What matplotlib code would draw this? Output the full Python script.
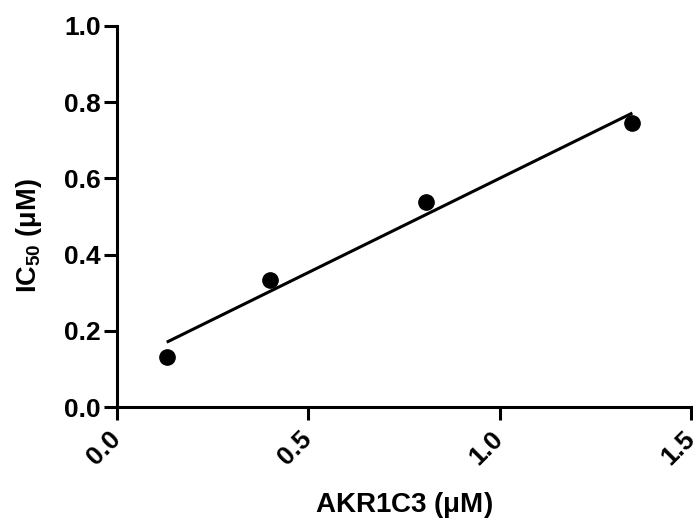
import numpy as np
import matplotlib
matplotlib.use('Agg')
import matplotlib.pyplot as plt

plt.rcParams['font.family'] = ['Liberation Sans', 'DejaVu Sans']
plt.rcParams['font.weight'] = 'bold'

# data
akr1c3 = [0.13, 0.40, 0.807, 1.347]
ic50 = [0.132, 0.333, 0.539, 0.746]
x_ticks = [0.0, 0.5, 1.0, 1.5]
y_ticks = [0.0, 0.2, 0.4, 0.6, 0.8, 1.0]

fig = plt.figure(figsize=(6.93, 5.26), dpi=100)
ax = fig.add_axes([0.1688, 0.2262, 0.8282, 0.7244])

# linear fit drawn over the data range
slope, intercept = np.polyfit(akr1c3, ic50, 1)
xs = np.array([min(akr1c3), max(akr1c3)])
ax.plot(xs, slope * xs + intercept, color='black', lw=2.2, solid_capstyle='butt')
ax.plot(akr1c3, ic50, 'o', color='black', ms=11)

ax.set_xlim(0, 1.5)
ax.set_ylim(0, 1.0)
ax.set_xticks(x_ticks)
ax.set_yticks(y_ticks)
ax.set_xticklabels(['%.1f' % t for t in x_ticks], rotation=45, ha='right', va='center',
                   rotation_mode='anchor', fontsize=19, fontweight='bold')
ax.set_yticklabels(['%.1f' % t for t in y_ticks], fontsize=19, fontweight='bold')

for s in ['top', 'right']:
    ax.spines[s].set_visible(False)
for s in ['left', 'bottom']:
    ax.spines[s].set_linewidth(2.2)
ax.tick_params(direction='out', length=9.5, width=2.2, pad=2)
ax.tick_params(axis='x', pad=11)

ax.set_xlabel('AKR1C3 ($\\mathregular{\\mu}$M)', fontsize=20, fontweight='bold')
ax.xaxis.set_label_coords(0.5, -0.218)
ax.set_ylabel('IC$_{\\mathregular{50}}$ ($\\mathregular{\\mu}$M)', fontsize=19.5, fontweight='bold')
ax.yaxis.set_label_coords(-0.127, 0.45)

fig.savefig('out.png', dpi=100)
